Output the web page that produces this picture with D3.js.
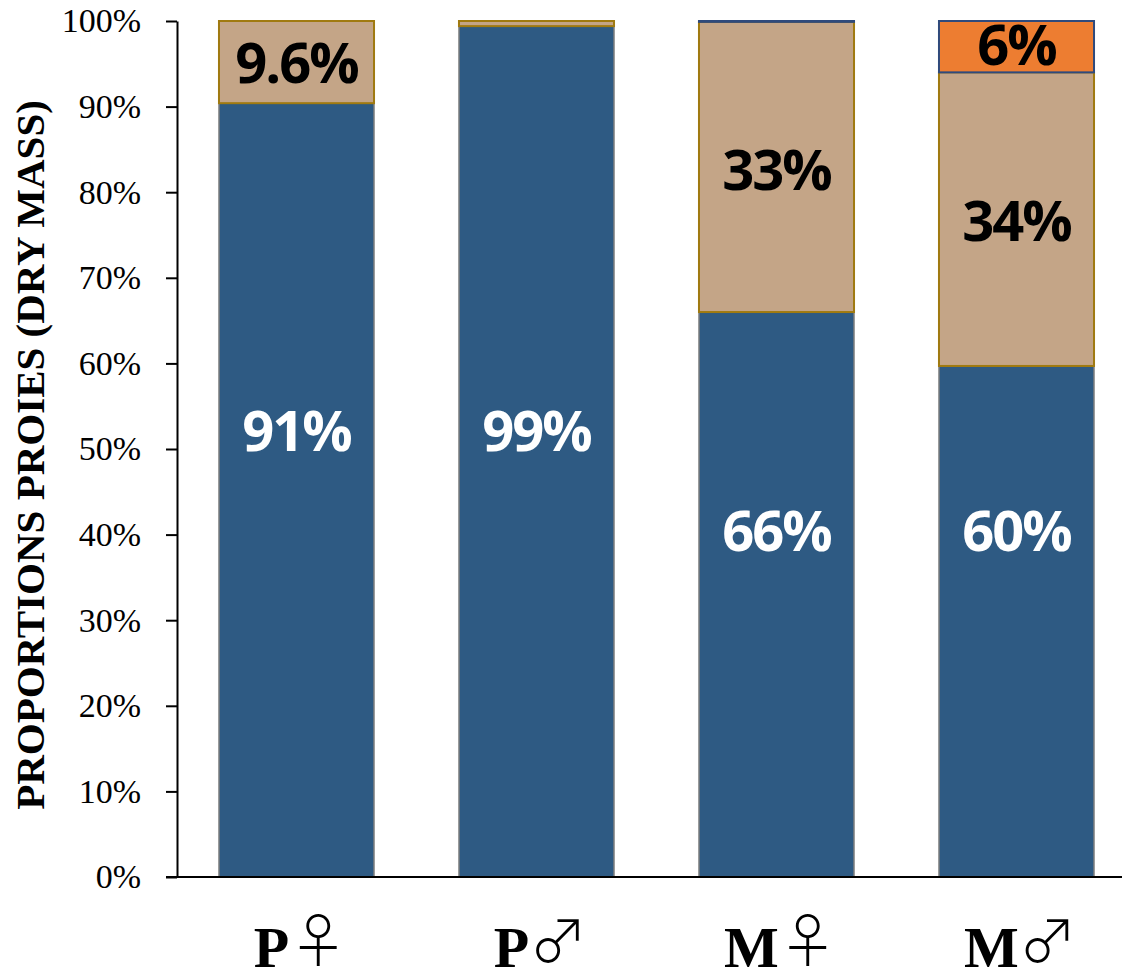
<!DOCTYPE html>
<html>
<head>
<meta charset="utf-8">
<script src="https://cdn.jsdelivr.net/npm/d3@7"></script>
<style>
  html, body { margin: 0; padding: 0; background: #ffffff; }
  svg { display: block; }
</style>
</head>
<body>
<div id="chart"></div>
<script>
// Groups (population × sex)
const categories = ["P♀", "P♂", "M♀", "M♂"];

// Share of prey dry mass per group, stacked bottom to top (percent)
const seriesNames = ["Proie A", "Proie B", "Proie C"];
const preyA = [90.4, 99.4, 66.0, 59.7];
const preyB = [9.6, 0.6, 33.9, 34.3];
const preyC = [0.0, 0.0, 0.1, 6.0];

// Y axis ticks (percent)
const yTicks = [0, 10, 20, 30, 40, 50, 60, 70, 80, 90, 100];

// Value labels: group, text, vertical placement (percent), series index
const labelCats = ["P♀", "P♂", "M♀", "M♂", "P♀", "M♀", "M♂", "M♂"];
const labelTexts = ["91%", "99%", "66%", "60%", "9.6%", "33%", "34%", "6%"];
const labelAt = [52.1, 52.1, 40.4, 40.4, 95.1, 82.6, 76.6, 97.2];
const labelSeries = [0, 0, 0, 0, 1, 1, 1, 2];

const fills = ["#2E5A83", "#C4A587", "#ED7D31"];
const strokes = ["#7F7F7F", "#A07A10", "#2F4A7C"];
const labelColors = ["#ffffff", "#000000", "#000000"];

const width = 1122, height = 980;
const svg = d3.select("#chart").append("svg")
  .attr("width", width).attr("height", height);

const x = d3.scaleBand()
  .domain(categories)
  .range([176.5, 1136.5])
  .paddingInner(0.354)
  .paddingOuter(0.177);

const y = d3.scaleLinear().domain([0, 100]).range([877, 21]);

// Build stacked table
const table = categories.map((c, i) => ({
  cat: c,
  [seriesNames[0]]: preyA[i],
  [seriesNames[1]]: preyB[i],
  [seriesNames[2]]: preyC[i]
}));
const stacked = d3.stack().keys(seriesNames)(table);

const layers = svg.append("g").selectAll("g")
  .data(stacked)
  .join("g")
  .attr("fill", (d, i) => fills[i])
  .attr("stroke", (d, i) => strokes[i])
  .attr("stroke-width", (d, i) => i === 0 ? 1.5 : 2);

layers.selectAll("rect")
  .data(d => d.filter(s => s[1] - s[0] > 0))
  .join("rect")
  .attr("x", d => x(d.data.cat))
  .attr("width", x.bandwidth())
  .attr("y", d => y(d[1]))
  .attr("height", d => y(d[0]) - y(d[1]));

// Y axis
const yAxis = d3.axisLeft(y)
  .tickValues(yTicks)
  .tickFormat(d => d + "%")
  .tickSize(11)
  .tickSizeOuter(0)
  .tickPadding(25);

const gy = svg.append("g")
  .attr("transform", "translate(177,0)")
  .call(yAxis);
gy.select(".domain").attr("stroke", "#000").attr("stroke-width", 2);
gy.selectAll(".tick line").attr("stroke", "#000").attr("stroke-width", 2);
gy.selectAll(".tick text")
  .attr("font-family", "'Liberation Serif', 'Times New Roman', serif")
  .attr("font-size", 34)
  .attr("fill", "#000");

// X axis baseline
svg.append("line")
  .attr("x1", 166).attr("x2", width)
  .attr("y1", y(0)).attr("y2", y(0))
  .attr("stroke", "#000").attr("stroke-width", 2);

// Category labels: bold letter followed by a thin sex symbol, in one text
const catText = svg.append("g").selectAll("text")
  .data(categories)
  .join("text")
  .attr("x", d => x(d) + x.bandwidth() / 2 + 4)
  .attr("y", 967)
  .attr("text-anchor", "middle")
  .attr("font-family", "'Liberation Serif', 'Times New Roman', serif")
  .attr("font-weight", "bold")
  .attr("font-size", 58)
  .attr("fill", "#000");

catText.append("tspan").text(d => d.slice(0, 1));
catText.append("tspan")
  .attr("dy", -5)
  .attr("font-family", "'Noto Sans CJK JP', 'Noto Sans CJK SC', sans-serif")
  .attr("font-weight", 300)
  .attr("font-size", 58)
  .text(d => d.slice(1));

// Y axis title
svg.append("text")
  .attr("transform", "translate(44,455) rotate(-90)")
  .attr("text-anchor", "middle")
  .attr("font-family", "'Liberation Serif', 'Times New Roman', serif")
  .attr("font-weight", "bold")
  .attr("font-size", 41)
  .attr("fill", "#000")
  .text("PROPORTIONS PROIES (DRY MASS)");

// Value labels
svg.append("g").selectAll("text")
  .data(labelTexts.map((t, i) => ({ t, cat: labelCats[i], at: labelAt[i], s: labelSeries[i] })))
  .join("text")
  .attr("x", d => x(d.cat) + x.bandwidth() / 2)
  .attr("y", d => y(d.at))
  .attr("dy", "0.36em")
  .attr("text-anchor", "middle")
  .attr("font-family", "'Open Sans', sans-serif")
  .attr("font-weight", "bold")
  .attr("font-size", 56)
  .attr("letter-spacing", -2)
  .attr("fill", d => labelColors[d.s])
  .text(d => d.t);
</script>
</body>
</html>
